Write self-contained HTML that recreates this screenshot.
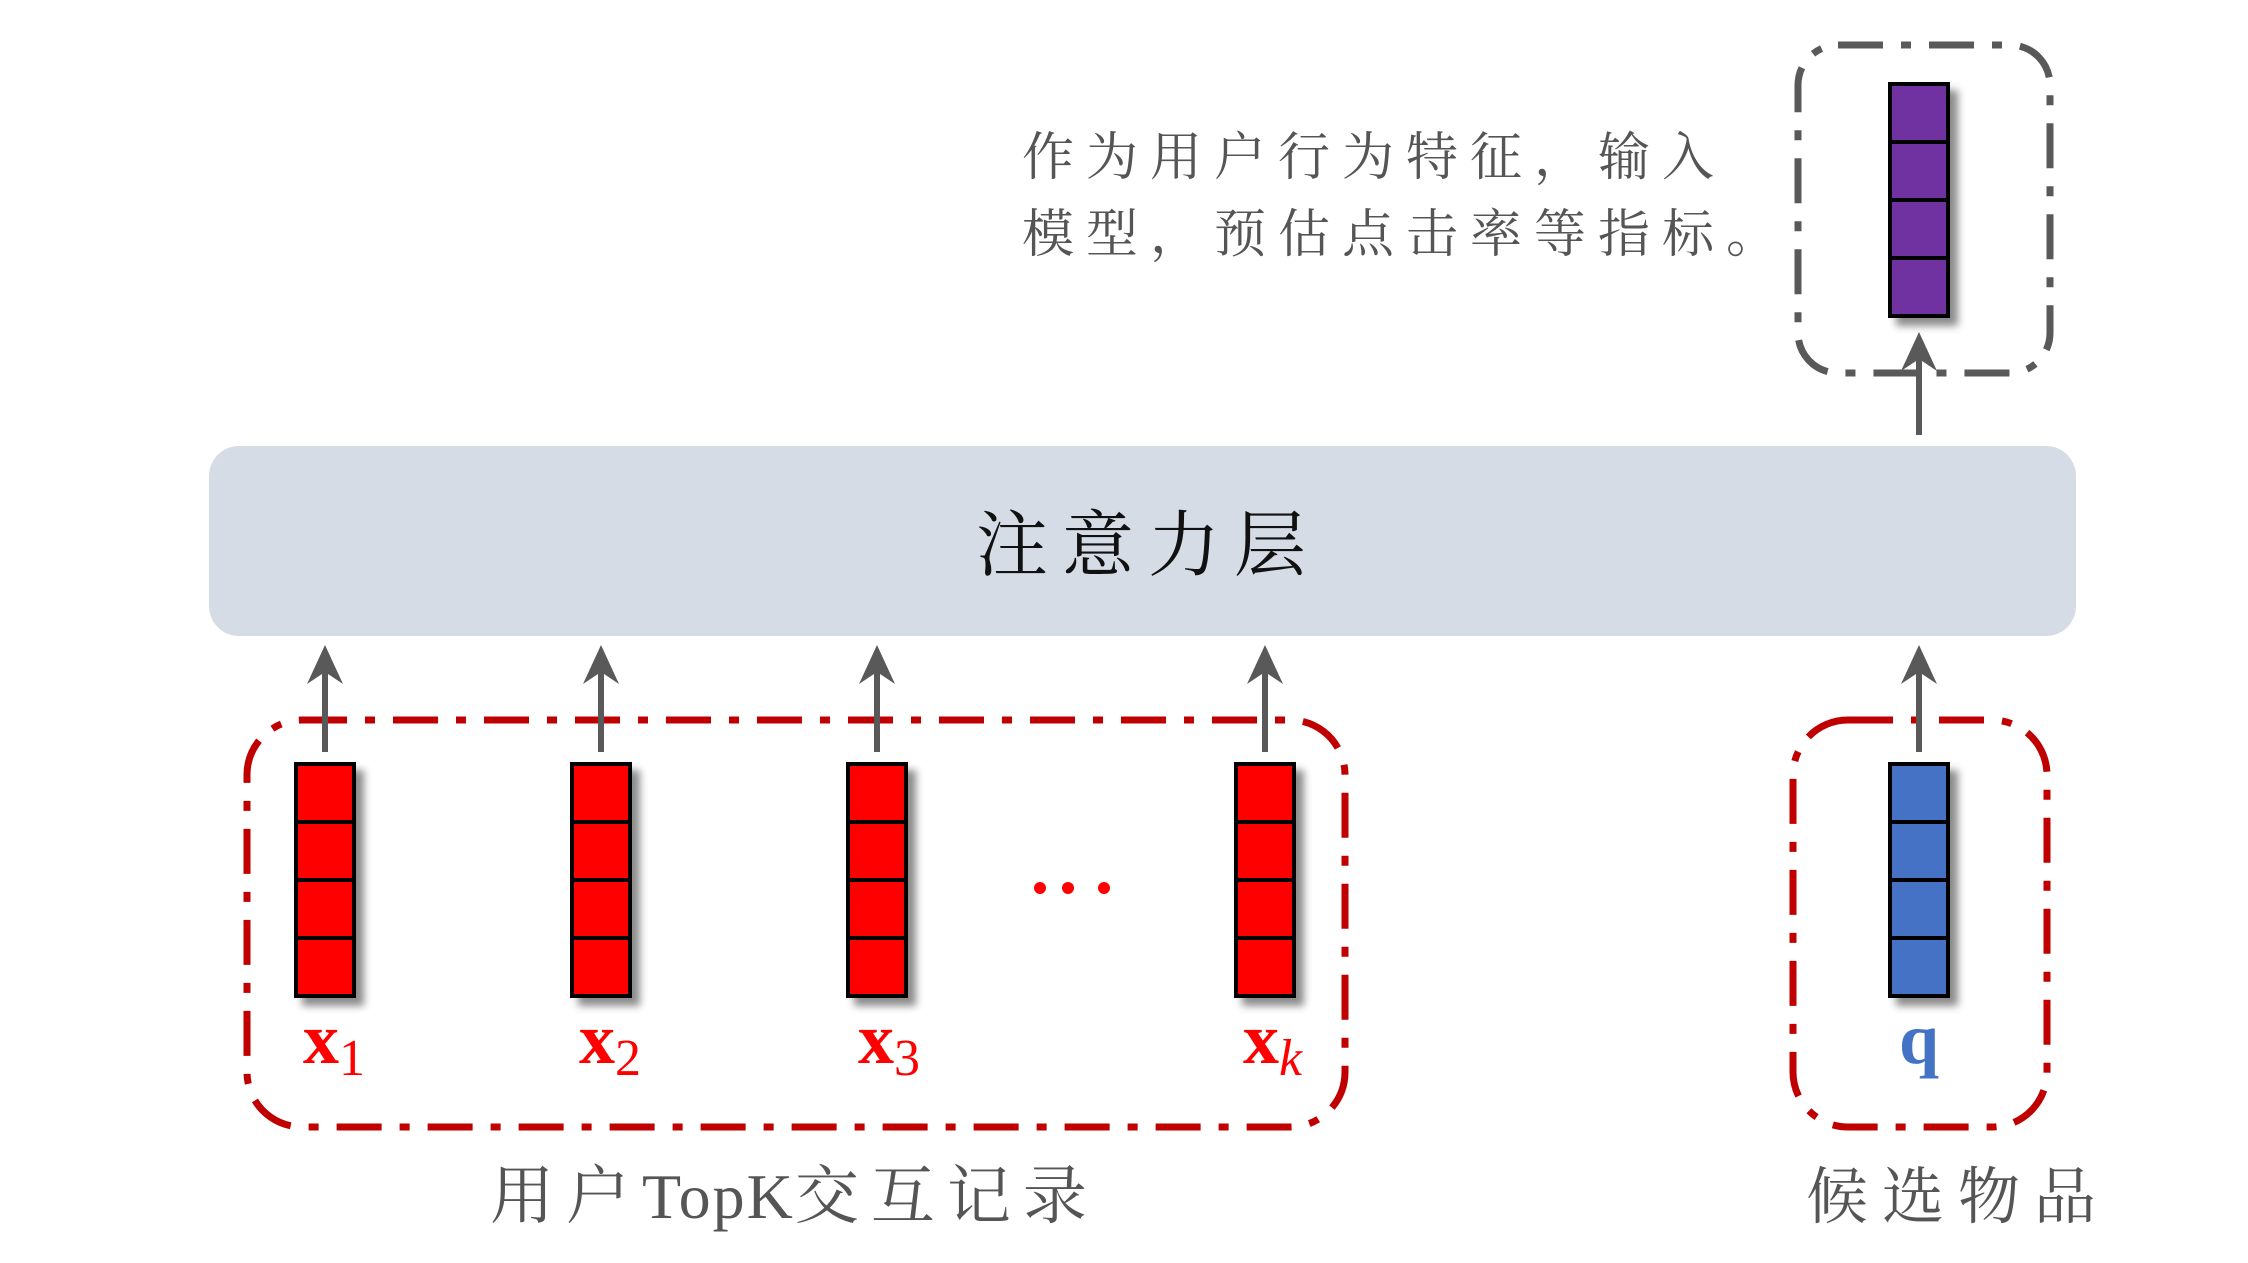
<!DOCTYPE html>
<html><head><meta charset="utf-8"><style>
html,body{margin:0;padding:0;background:#fff;}
svg{display:block;}
text{font-family:"Liberation Serif","Noto Serif CJK SC",serif;}
</style></head><body>
<svg width="2248" height="1263" viewBox="0 0 2248 1263" xmlns="http://www.w3.org/2000/svg">
<defs>
<filter id="sh" x="-50%" y="-20%" width="200%" height="140%">
<feDropShadow dx="8" dy="8" stdDeviation="4" flood-color="#000" flood-opacity="0.45"/>
</filter>
</defs>

<rect x="209" y="446" width="1867" height="190" rx="30" fill="#d6dce5"/>
<text x="1148" y="570" font-size="72" fill="#111" text-anchor="middle" letter-spacing="14">注意力层</text>

<text x="1022" y="175" font-size="52" fill="#555" letter-spacing="12">作为用户行为特征，输入</text>
<text x="1022" y="252" font-size="52" fill="#555" letter-spacing="12">模型，预估点击率等指标。</text>

<rect x="1798" y="45" width="252" height="328" rx="40" fill="none" stroke="#595959" stroke-width="7" stroke-dasharray="45 18 10 18"/>
<g filter="url(#sh)">
<rect x="1890" y="84" width="58" height="232" fill="#7030a0" stroke="#000" stroke-width="4"/>
</g>
<g stroke="#000" stroke-width="4"><line x1="1890" y1="142" x2="1948" y2="142"/><line x1="1890" y1="200" x2="1948" y2="200"/><line x1="1890" y1="258" x2="1948" y2="258"/></g>

<rect x="247" y="720" width="1098" height="407" rx="55" fill="none" stroke="#c00000" stroke-width="7" stroke-dasharray="45 18 10 18"/>
<rect x="1793" y="720" width="254" height="407" rx="55" fill="none" stroke="#c00000" stroke-width="7" stroke-dasharray="45 18 10 18"/>

<g filter="url(#sh)">
<rect x="296" y="764" width="58" height="232" fill="#ff0000" stroke="#000" stroke-width="4"/>
<rect x="572" y="764" width="58" height="232" fill="#ff0000" stroke="#000" stroke-width="4"/>
<rect x="848" y="764" width="58" height="232" fill="#ff0000" stroke="#000" stroke-width="4"/>
<rect x="1236" y="764" width="58" height="232" fill="#ff0000" stroke="#000" stroke-width="4"/>
<rect x="1890" y="764" width="58" height="232" fill="#4472c4" stroke="#000" stroke-width="4"/>
</g>
<g stroke="#000" stroke-width="4">
<path d="M296 822h58M296 880h58M296 938h58"/>
<path d="M572 822h58M572 880h58M572 938h58"/>
<path d="M848 822h58M848 880h58M848 938h58"/>
<path d="M1236 822h58M1236 880h58M1236 938h58"/>
<path d="M1890 822h58M1890 880h58M1890 938h58"/>
</g>

<g stroke="#595959" stroke-width="6">
<line x1="325" y1="752" x2="325" y2="665"/>
<line x1="601" y1="752" x2="601" y2="665"/>
<line x1="877" y1="752" x2="877" y2="665"/>
<line x1="1265" y1="752" x2="1265" y2="665"/>
<line x1="1919" y1="752" x2="1919" y2="665"/>
<line x1="1919" y1="435" x2="1919" y2="350"/>
</g>
<g fill="#595959">
<path d="M325 645 L343 684 L325 672 L307 684 Z"/>
<path d="M601 645 L619 684 L601 672 L583 684 Z"/>
<path d="M877 645 L895 684 L877 672 L859 684 Z"/>
<path d="M1265 645 L1283 684 L1265 672 L1247 684 Z"/>
<path d="M1919 645 L1937 684 L1919 672 L1901 684 Z"/>
<path d="M1919 332 L1937 371 L1919 359 L1901 371 Z"/>
</g>

<g fill="#ff0000"><circle cx="1040" cy="888" r="6"/><circle cx="1068" cy="888" r="6"/><circle cx="1104" cy="888" r="6"/></g>

<g fill="#ff0000">
<text x="303" y="1063" font-size="72" font-weight="bold">x<tspan font-size="52" font-weight="normal" dy="12">1</tspan></text>
<text x="579" y="1063" font-size="72" font-weight="bold">x<tspan font-size="52" font-weight="normal" dy="12">2</tspan></text>
<text x="858" y="1063" font-size="72" font-weight="bold">x<tspan font-size="52" font-weight="normal" dy="12">3</tspan></text>
<text x="1243" y="1063" font-size="72" font-weight="bold">x<tspan font-size="52" font-weight="normal" font-style="italic" dy="12">k</tspan></text>
</g>
<text x="1919" y="1063" font-size="72" font-weight="bold" fill="#4472c4" text-anchor="middle">q</text>

<text x="490" y="1218" font-size="64" fill="#555"><tspan letter-spacing="12">用户</tspan><tspan letter-spacing="2">TopK</tspan><tspan letter-spacing="12">交互记录</tspan></text>
<text x="1806" y="1218" font-size="62" fill="#555" letter-spacing="14">候选物品</text>
</svg>
</body></html>
